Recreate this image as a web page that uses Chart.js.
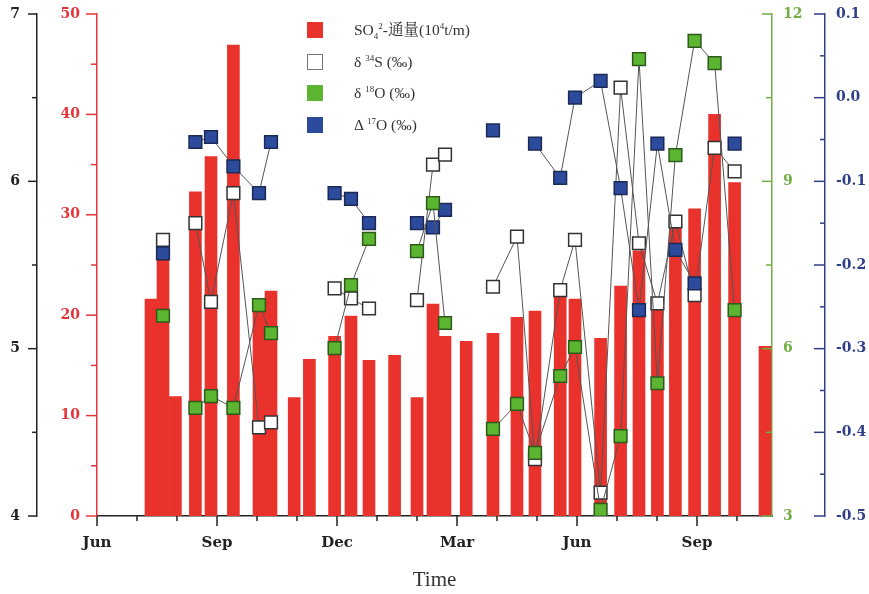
<!DOCTYPE html>
<html>
<head>
<meta charset="utf-8">
<script src="https://cdn.jsdelivr.net/npm/chart.js@4.4.1/dist/chart.umd.min.js"></script>
<style>
  html, body { margin: 0; padding: 0; background: #fff; }
  #wrap { position: relative; width: 869px; height: 594px; background: #fff; }
  #c { position: absolute; left: 0; top: 0; }
  #legend {
    position: absolute; left: 307px; top: 22px;
    font-family: "Liberation Serif", "Noto Serif CJK SC", "Noto Sans CJK SC", serif;
    font-size: 15.5px; color: #333;
  }
  .row { position: absolute; left: 0; height: 16px; white-space: nowrap; }
  .box { position: absolute; left: 0; top: 0; width: 16px; height: 16px; box-sizing: border-box; }
  .txt { position: absolute; left: 47px; top: -2px; line-height: 20px; }
  .txt sub, .txt sup { font-size: 9px; line-height: 0; }
</style>
</head>
<body>
<div id="wrap">
  <canvas id="c" width="869" height="594"></canvas>
  <div id="legend"></div>
</div>
<script>
// Sampling dates, in months counted from 1 June of the first year
const sampleMonth = [1.35, 1.65, 1.96, 2.46, 2.85, 3.41, 4.05, 4.35, 4.93, 5.31,
                     5.94, 6.35, 6.80, 7.44, 8.00, 8.40, 8.70, 9.23, 9.90, 10.50,
                     10.95, 11.58, 11.95, 12.59, 13.09, 13.55, 14.01, 14.46, 14.94, 15.44,
                     15.94, 16.70];

// Sulfate flux (10^4 t/month)
const so4Flux = [21.6, 25.5, 11.9, 32.3, 35.8, 46.9, 21.3, 22.4, 11.8, 15.6,
                 17.9, 19.9, 15.5, 16.0, 11.8, 21.1, 17.9, 17.4, 18.2, 19.8,
                 20.4, 21.8, 21.6, 17.7, 22.9, 26.4, 21.2, 28.8, 30.6, 40.0,
                 33.2, 16.9];

// Isotope values (per mil); null = not measured
const d34S = [null, 5.65, null, 5.75, 5.28, 5.93, 4.53, 4.56, null, null,
              5.36, 5.30, 5.24, null, 5.29, 6.10, 6.16, null, 5.37, 5.67,
              4.34, 5.35, 5.65, 4.14, 6.56, 5.63, 5.27, 5.76, 5.32, 6.20,
              6.06, null];
const d18O = [null, 6.59, null, 4.94, 5.15, 4.94, 6.78, 6.28, null, null,
              6.01, 7.14, 7.97, null, 7.75, 8.61, 6.46, null, 4.56, 5.01,
              4.13, 5.51, 6.03, 3.11, 4.43, 11.19, 5.38, 9.47, 11.52, 11.12,
              6.69, null];
const D17O = [null, -0.186, null, -0.053, -0.047, -0.082, -0.114, -0.053, null, null,
              -0.114, -0.121, -0.150, null, -0.150, -0.155, -0.134, null, -0.039, null,
              -0.055, -0.096, 0.000, 0.020, -0.108, -0.254, -0.055, -0.182, -0.222, null,
              -0.055, null];

// Axis ticks
const monthTickValues = [0, 3, 6, 9, 12, 15];
const monthTickLabels = ['Jun', 'Sep', 'Dec', 'Mar', 'Jun', 'Sep'];
const fluxTicks = [0, 10, 20, 30, 40, 50];
const d34STicks = [4, 5, 6, 7];
const d18OTicks = [3, 6, 9, 12];
const D17OTicks = [-0.5, -0.4, -0.3, -0.2, -0.1, 0.0, 0.1];

// Legend entries (rich text)
const legendText = [
  'SO<sub>4</sub><sup>2</sup>-通量(10<sup>4</sup>t/m)',
  'δ <sup>34</sup>S (‰)',
  'δ <sup>18</sup>O (‰)',
  'Δ <sup>17</sup>O (‰)'
];

const RED = '#e8322b', RED_AXIS = '#e3353a';
const GREEN = '#5cb531', GREEN_AXIS = '#72ad45';
const BLUE = '#2d4b9c', BLUE_AXIS = '#2f3f88';
const BLACK = '#222';
const tickFont = { family: 'DejaVu Serif', size: 14, weight: 'bold' };

const xy = vals => sampleMonth.map((m, i) => ({ x: m, y: vals[i] }));

// Draws major/minor tick marks for every axis through the chart scales
const tickMarks = {
  id: 'tickMarks',
  afterDraw(chart, args, opts) {
    const ctx = chart.ctx;
    opts.axes.forEach(a => {
      const s = chart.scales[a.id];
      const majors = a.major;
      const minors = a.minor || [];
      ctx.save();
      ctx.strokeStyle = a.color;
      ctx.lineWidth = 1.5;
      const mark = (v, len) => {
        ctx.beginPath();
        if (s.isHorizontal()) {
          const x = s.getPixelForValue(v);
          ctx.moveTo(x, s.top);
          ctx.lineTo(x, s.top + len);
        } else {
          const y = s.getPixelForValue(v);
          const x = s.position === 'left' ? s.right : s.left;
          ctx.moveTo(x, y);
          ctx.lineTo(x - len, y);
        }
        ctx.stroke();
      };
      majors.forEach(v => mark(v, a.majorLen));
      minors.forEach(v => mark(v, a.minorLen));
      ctx.restore();
    });
  }
};

const midpoints = t => t.slice(1).map((v, i) => (v + t[i]) / 2);
const xMax = 16.875;
const monthMinor = [];
for (let m = 0; m <= Math.floor(xMax); m++) if (!monthTickValues.includes(m)) monthMinor.push(m);

const setTicks = vals => scale => { scale.ticks = vals.map(v => ({ value: v })); };
// fixed box width for a vertical axis, without the extra label padding at its ends
const fixWidth = w => scale => { scale.width = w; scale.paddingTop = 0; scale.paddingBottom = 0; };

const chart = new Chart(document.getElementById('c'), {
  type: 'line',
  data: {
    datasets: [
      {
        type: 'bar', label: 'SO₄²⁻-通量(10⁴t/m)', data: xy(so4Flux), yAxisID: 'yFlux',
        backgroundColor: RED, borderWidth: 0, barThickness: 12, order: 5
      },
      {
        label: 'δ³⁴S(‰)', data: xy(d34S), yAxisID: 'yS',
        borderColor: '#555', borderWidth: 1, backgroundColor: '#fff',
        pointStyle: 'rect', pointRadius: 9, pointBackgroundColor: '#fff',
        pointBorderColor: '#333', pointBorderWidth: 1.5, order: 3
      },
      {
        label: 'Δ¹⁷O(‰)', data: xy(D17O), yAxisID: 'yD17',
        borderColor: '#555', borderWidth: 1, backgroundColor: BLUE,
        pointStyle: 'rect', pointRadius: 9, pointBackgroundColor: BLUE,
        pointBorderColor: '#1c2a55', pointBorderWidth: 1.5, order: 2
      },
      {
        label: 'δ¹⁸O(‰)', data: xy(d18O), yAxisID: 'yO18',
        borderColor: '#555', borderWidth: 1, backgroundColor: GREEN,
        pointStyle: 'rect', pointRadius: 9, pointBackgroundColor: GREEN,
        pointBorderColor: '#2e5a1c', pointBorderWidth: 1.5, order: 1
      }
    ]
  },
  options: {
    responsive: false,
    animation: false,
    devicePixelRatio: 1,
    layout: { padding: { top: 14, left: 0, right: 0, bottom: 0 } },
    plugins: {
      legend: { display: false },
      tooltip: { enabled: false },
      tickMarks: {
        axes: [
          { id: 'x', major: monthTickValues, minor: monthMinor, majorLen: 10, minorLen: 5, color: BLACK },
          { id: 'yS', major: d34STicks, minor: midpoints(d34STicks), majorLen: 9, minorLen: 5, color: BLACK },
          { id: 'yFlux', major: fluxTicks, minor: midpoints(fluxTicks), majorLen: 11, minorLen: 6, color: RED_AXIS },
          { id: 'yO18', major: d18OTicks, minor: midpoints(d18OTicks), majorLen: 10, minorLen: 6, color: GREEN_AXIS },
          { id: 'yD17', major: D17OTicks, minor: midpoints(D17OTicks), majorLen: 11, minorLen: 5, color: BLUE_AXIS }
        ]
      }
    },
    scales: {
      x: {
        type: 'linear', position: 'bottom', min: 0, max: xMax, offset: false,
        afterBuildTicks: setTicks(monthTickValues),
        afterFit: s => { s.height = 78; },
        grid: { display: false, drawTicks: false },
        border: { color: BLACK, width: 1.5 },
        ticks: {
          padding: 18, color: BLACK, font: { family: 'DejaVu Serif', size: 15, weight: 'bold' },
          callback: v => monthTickLabels[monthTickValues.indexOf(v)] ?? ''
        },
        title: {
          display: true, text: 'Time', color: '#333',
          font: { family: 'Liberation Serif', size: 21 }, padding: { top: 0, bottom: 1 }
        }
      },
      yS: {
        type: 'linear', position: 'left', weight: 2, min: 4, max: 7,
        afterBuildTicks: setTicks(d34STicks),
        afterFit: fixWidth(37),
        grid: { display: false, drawTicks: false },
        border: { color: BLACK, width: 1.5 },
        ticks: { padding: 17, color: BLACK, font: tickFont, callback: v => String(v) }
      },
      yFlux: {
        type: 'linear', position: 'left', weight: 1, min: 0, max: 50,
        afterBuildTicks: setTicks(fluxTicks),
        afterFit: fixWidth(60),
        grid: { display: false, drawTicks: false },
        border: { color: RED_AXIS, width: 1.5 },
        ticks: { padding: 17, color: RED_AXIS, font: tickFont, callback: v => String(v) }
      },
      yO18: {
        type: 'linear', position: 'right', weight: 1, min: 3, max: 12,
        afterBuildTicks: setTicks(d18OTicks),
        afterFit: fixWidth(53),
        grid: { display: false, drawTicks: false },
        border: { color: GREEN_AXIS, width: 1.5 },
        ticks: { padding: 11, color: GREEN_AXIS, font: tickFont, callback: v => String(v) }
      },
      yD17: {
        type: 'linear', position: 'right', weight: 2, min: -0.5, max: 0.1,
        afterBuildTicks: setTicks(D17OTicks),
        afterFit: fixWidth(44),
        grid: { display: false, drawTicks: false },
        border: { color: BLUE_AXIS, width: 1.5 },
        ticks: { padding: 11, color: BLUE_AXIS, font: tickFont,
                 callback: v => (Math.abs(v) < 1e-9 ? 0 : v).toFixed(1) }
      }
    }
  },
  plugins: [tickMarks]
});

// HTML legend built from the dataset colours
const legendOrder = [0, 1, 3, 2];
const legendEl = document.getElementById('legend');
legendOrder.forEach((dsIndex, row) => {
  const ds = chart.data.datasets[dsIndex];
  const r = document.createElement('div');
  r.className = 'row';
  r.style.top = (row * 31.5) + 'px';
  const b = document.createElement('div');
  b.className = 'box';
  b.style.background = ds.backgroundColor;
  if (ds.backgroundColor === '#fff') b.style.border = '1px solid #777';
  const t = document.createElement('div');
  t.className = 'txt';
  t.innerHTML = legendText[row];
  r.appendChild(b); r.appendChild(t);
  legendEl.appendChild(r);
});
</script>
</body>
</html>
